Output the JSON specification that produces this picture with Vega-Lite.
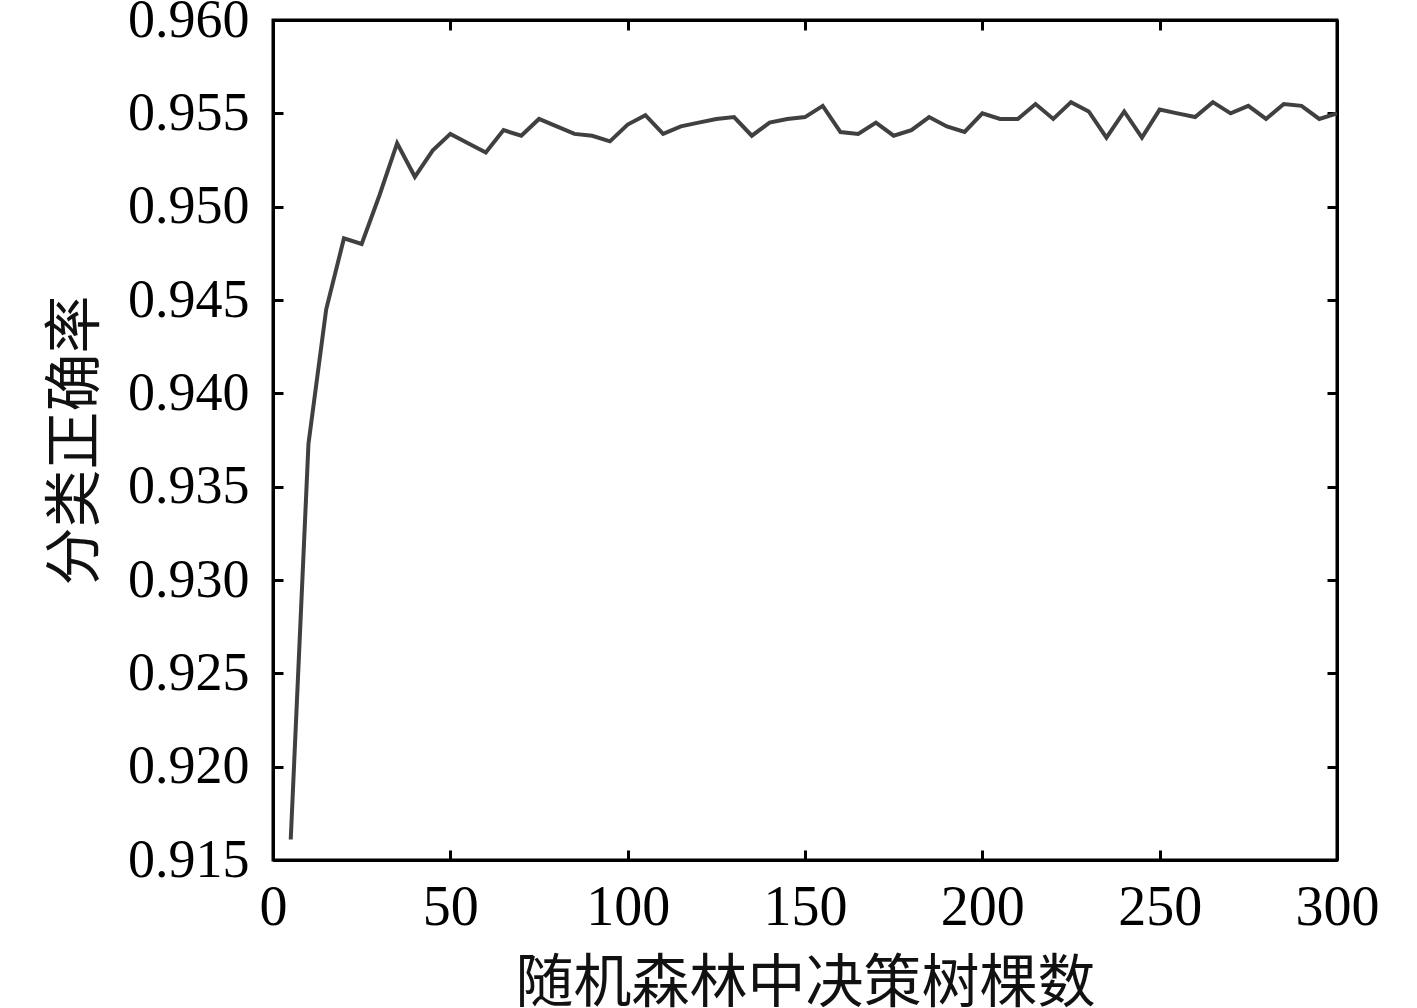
{
  "$schema": "https://vega.github.io/schema/vega-lite/v6.json",
  "width": 1064,
  "height": 840,
  "autosize": "none",
  "padding": {"left": 273, "top": 20, "right": 80, "bottom": 148},
  "background": "white",
  "config": {
    "view": {"stroke": "black", "strokeWidth": 3},
    "axis": {
      "labelFont": "Liberation Serif",
      "titleFont": "Noto Sans CJK SC",
      "labelFontSize": 54,
      "titleFontSize": 58,
      "titleFontWeight": "normal",
      "labelColor": "black",
      "titleColor": "#111111",
      "domainColor": "black",
      "domainWidth": 3,
      "tickColor": "black",
      "tickWidth": 3,
      "tickSize": -10,
      "grid": false
    }
  },
  "data": {
    "values": [
      {"n": 5, "acc": 0.9161}, {"n": 10, "acc": 0.9373}, {"n": 15, "acc": 0.9445}, {"n": 20, "acc": 0.9483},
      {"n": 25, "acc": 0.9480}, {"n": 30, "acc": 0.9506}, {"n": 35, "acc": 0.9534}, {"n": 40, "acc": 0.9516},
      {"n": 45, "acc": 0.9530}, {"n": 50, "acc": 0.9539}, {"n": 55, "acc": 0.9534}, {"n": 60, "acc": 0.9529},
      {"n": 65, "acc": 0.9541}, {"n": 70, "acc": 0.9538}, {"n": 75, "acc": 0.9547}, {"n": 80, "acc": 0.9543},
      {"n": 85, "acc": 0.9539}, {"n": 90, "acc": 0.9538}, {"n": 95, "acc": 0.9535}, {"n": 100, "acc": 0.9544},
      {"n": 105, "acc": 0.9549}, {"n": 110, "acc": 0.9539}, {"n": 115, "acc": 0.9543}, {"n": 120, "acc": 0.9545},
      {"n": 125, "acc": 0.9547}, {"n": 130, "acc": 0.9548}, {"n": 135, "acc": 0.9538}, {"n": 140, "acc": 0.9545},
      {"n": 145, "acc": 0.9547}, {"n": 150, "acc": 0.9548}, {"n": 155, "acc": 0.9554}, {"n": 160, "acc": 0.9540},
      {"n": 165, "acc": 0.9539}, {"n": 170, "acc": 0.9545}, {"n": 175, "acc": 0.9538}, {"n": 180, "acc": 0.9541},
      {"n": 185, "acc": 0.9548}, {"n": 190, "acc": 0.9543}, {"n": 195, "acc": 0.9540}, {"n": 200, "acc": 0.9550},
      {"n": 205, "acc": 0.9547}, {"n": 210, "acc": 0.9547}, {"n": 215, "acc": 0.9555}, {"n": 220, "acc": 0.9547},
      {"n": 225, "acc": 0.9556}, {"n": 230, "acc": 0.9551}, {"n": 235, "acc": 0.9537}, {"n": 240, "acc": 0.9551},
      {"n": 245, "acc": 0.9537}, {"n": 250, "acc": 0.9552}, {"n": 255, "acc": 0.9550}, {"n": 260, "acc": 0.9548},
      {"n": 265, "acc": 0.9556}, {"n": 270, "acc": 0.9550}, {"n": 275, "acc": 0.9554}, {"n": 280, "acc": 0.9547},
      {"n": 285, "acc": 0.9555}, {"n": 290, "acc": 0.9554}, {"n": 295, "acc": 0.9547}, {"n": 300, "acc": 0.9550}
    ]
  },
  "resolve": {"axis": {"x": "independent", "y": "independent"}},
  "layer": [
    {
      "mark": {"type": "line", "color": "#404040", "strokeWidth": 4, "clip": true},
      "encoding": {
        "x": {
          "field": "n", "type": "quantitative",
          "scale": {"domain": [0, 300], "nice": false, "zero": false},
          "axis": {"values": [0, 50, 100, 150, 200, 250, 300], "labelFontSize": 56, "title": "随机森林中决策树棵数", "labelPadding": 30, "titlePadding": 20, "labelFlush": false}
        },
        "y": {
          "field": "acc", "type": "quantitative",
          "scale": {"domain": [0.915, 0.960], "nice": false, "zero": false},
          "axis": {"values": [0.915, 0.92, 0.925, 0.93, 0.935, 0.94, 0.945, 0.95, 0.955, 0.96], "format": ".3f", "title": "分类正确率", "labelPadding": 34, "titlePadding": 22, "labelFlush": false}
        }
      }
    },
    {
      "mark": {"type": "line", "opacity": 0},
      "encoding": {
        "x": {
          "field": "n", "type": "quantitative",
          "axis": {"orient": "top", "values": [0, 50, 100, 150, 200, 250, 300], "labels": false, "title": null}
        },
        "y": {
          "field": "acc", "type": "quantitative",
          "axis": {"orient": "right", "values": [0.915, 0.92, 0.925, 0.93, 0.935, 0.94, 0.945, 0.95, 0.955, 0.96], "labels": false, "title": null}
        }
      }
    }
  ]
}
